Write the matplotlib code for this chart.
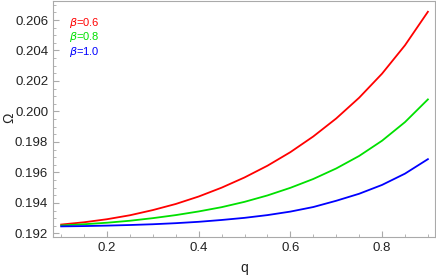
import matplotlib
matplotlib.use("Agg")
import matplotlib.pyplot as plt
from matplotlib.ticker import MultipleLocator, FormatStrFormatter

q = [0.10, 0.15, 0.20, 0.25, 0.30, 0.35, 0.40, 0.45, 0.50, 0.55, 0.60,
     0.65, 0.70, 0.75, 0.80, 0.85, 0.90]
omega_b06 = [0.19258, 0.19273, 0.19293, 0.19319, 0.19353, 0.19393, 0.19442,
             0.19500, 0.19567, 0.19644, 0.19733, 0.19836, 0.19954, 0.20090,
             0.20248, 0.20434, 0.20654]
omega_b08 = [0.19252, 0.19260, 0.19270, 0.19283, 0.19300, 0.19320, 0.19344,
             0.19372, 0.19407, 0.19449, 0.19499, 0.19557, 0.19626, 0.19708,
             0.19808, 0.19930, 0.20079]
omega_b10 = [0.19246, 0.19248, 0.19251, 0.19255, 0.19260, 0.19267, 0.19276,
             0.19288, 0.19302, 0.19320, 0.19343, 0.19373, 0.19414, 0.19460,
             0.19518, 0.19592, 0.19687]
labels = [r"$\beta$=0.6", r"$\beta$=0.8", r"$\beta$=1.0"]
colors = ["#ff0000", "#00e000", "#0000ff"]
series = [omega_b06, omega_b08, omega_b10]

plt.rcParams['font.family'] = ['Liberation Sans', 'DejaVu Sans']
fig = plt.figure(figsize=(4.36, 2.75), dpi=100)
ax = fig.add_axes([0.1216, 0.138, 0.876, 0.858])

for s, c in zip(series, colors):
    ax.plot(q, s, color=c, lw=1.3, solid_joinstyle='round')

ax.set_xlim(0.0822, 0.9154)
ax.set_ylim(0.19176, 0.20724)
ax.xaxis.set_major_locator(MultipleLocator(0.2))
ax.xaxis.set_minor_locator(MultipleLocator(0.05))
ax.yaxis.set_major_locator(MultipleLocator(0.002))
ax.yaxis.set_minor_locator(MultipleLocator(0.0005))
ax.yaxis.set_major_formatter(FormatStrFormatter('%.3f'))
ax.xaxis.set_major_formatter(FormatStrFormatter('%.1f'))

for sp in ax.spines.values():
    sp.set_color('#aaaaaa')
    sp.set_linewidth(0.8)
ax.tick_params(which='both', direction='in', color='#aaaaaa', labelsize=9.5,
               labelcolor='#222222', top=False, right=False)
ax.tick_params(which='major', length=4, width=0.8)
ax.tick_params(which='minor', length=2.2, width=0.6)

ax.set_xlabel('q', fontsize=10, color='#222222')
ax.xaxis.set_label_coords(0.5, -0.103)
ax.set_ylabel('Ω', fontsize=10, color='#222222')
ax.yaxis.set_label_coords(-0.097, 0.504)

baselines = [26.5, 40.5, 54.5]
for lab, c, b in zip(labels, colors, baselines):
    fig.text(69 / 436, 1 - b / 275, lab, color=c, fontsize=8,
             va='baseline', ha='left')

fig.savefig('out.png', dpi=100)
